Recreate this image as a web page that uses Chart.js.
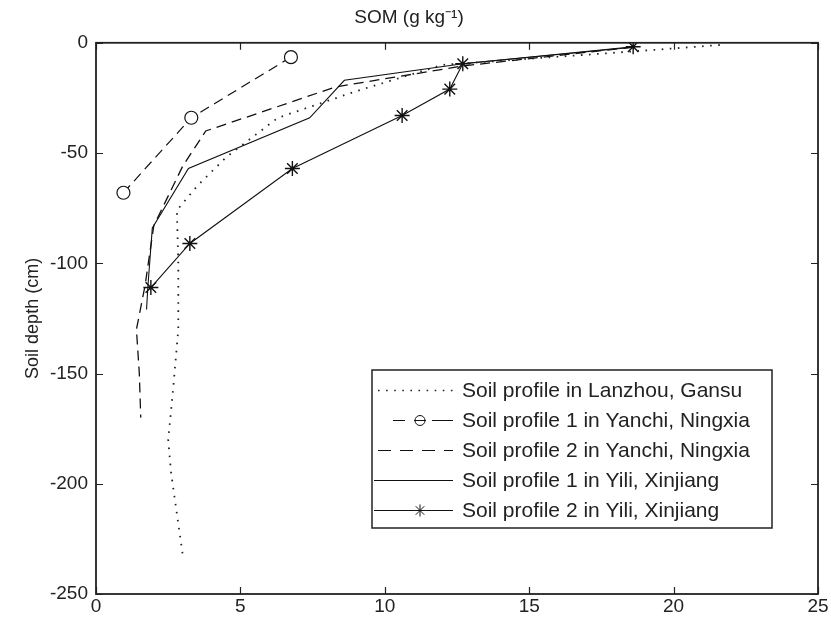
<!DOCTYPE html>
<html>
<head>
<meta charset="utf-8">
<script src="https://cdn.jsdelivr.net/npm/chart.js@4.4.1/dist/chart.umd.min.js"></script>
<style>
  html, body { margin: 0; padding: 0; background: #fff; }
  #wrap { width: 831px; height: 625px; }
</style>
</head>
<body>
<div id="wrap"><canvas id="somChart" width="831" height="625"></canvas></div>
<script>
// SOM (g/kg) against soil depth (cm)
var lanzhouSOM   = [21.6, 18.5, 12.0, 9.0, 6.3, 4.5, 3.5, 2.8, 2.85, 2.85, 2.65, 2.5, 2.6, 3.0];
var lanzhouDepth = [-1, -4, -10, -22, -34, -52, -65, -76, -100, -130, -160, -180, -195, -232];

var yanchi1SOM   = [6.75, 3.3, 0.95];
var yanchi1Depth = [-6.5, -34, -68];

var yanchi2SOM   = [18.6, 12.7, 8.3, 3.8, 3.0, 2.0, 1.7, 1.4, 1.5, 1.55];
var yanchi2Depth = [-2, -10.5, -20, -40, -56, -83, -110, -130, -150, -170];

var yili1SOM   = [18.6, 12.7, 8.6, 7.4, 3.2, 1.95, 1.8, 1.75];
var yili1Depth = [-2, -9.5, -17, -34, -57, -84, -110, -121];

var yili2SOM   = [18.6, 12.7, 12.25, 10.6, 6.8, 3.25, 1.9];
var yili2Depth = [-1.8, -9.5, -21, -33, -57, -91, -111];

var xTicks = [0, 5, 10, 15, 20, 25];
var yTicks = [0, -50, -100, -150, -200, -250];

var seriesLabels = [
  "Soil profile in Lanzhou, Gansu",
  "Soil profile 1 in Yanchi, Ningxia",
  "Soil profile 2 in Yanchi, Ningxia",
  "Soil profile 1 in Yili, Xinjiang",
  "Soil profile 2 in Yili, Xinjiang"
];

function toPoints(xs, ys) {
  var pts = [];
  for (var i = 0; i < xs.length; i++) pts.push({ x: xs[i], y: ys[i] });
  return pts;
}

var ink = "#111";
var fontFam = "'Liberation Sans', Arial, sans-serif";

// box round the plot with inward ticks on all four sides
var boxTicks = {
  id: "boxTicks",
  afterDraw: function (chart) {
    var ctx = chart.ctx, a = chart.chartArea;
    var sx = chart.scales.x, sy = chart.scales.y;
    var len = 7;
    ctx.save();
    ctx.strokeStyle = "#222";
    ctx.lineWidth = 1.2;
    ctx.beginPath();
    xTicks.forEach(function (v) {
      var px = Math.round(sx.getPixelForValue(v)) + 0.5;
      ctx.moveTo(px, a.bottom); ctx.lineTo(px, a.bottom - len);
      ctx.moveTo(px, a.top); ctx.lineTo(px, a.top + len);
    });
    yTicks.forEach(function (v) {
      var py = Math.round(sy.getPixelForValue(v)) + 0.5;
      ctx.moveTo(a.left, py); ctx.lineTo(a.left + len, py);
      ctx.moveTo(a.right, py); ctx.lineTo(a.right - len, py);
    });
    ctx.stroke();
    ctx.lineWidth = 1.8;
    ctx.strokeRect(a.left, a.top, a.right - a.left, a.bottom - a.top);
    ctx.restore();
  }
};

// legend box inside the plot, lower right
var boxLegend = {
  id: "boxLegend",
  afterDraw: function (chart) {
    var ctx = chart.ctx;
    var left = 372, top = 370, w = 400, h = 158;
    var rowH = 30, firstRow = top + 20;
    ctx.save();
    ctx.fillStyle = "#fff";
    ctx.fillRect(left, top, w, h);
    ctx.strokeStyle = "#222";
    ctx.lineWidth = 1.5;
    ctx.strokeRect(left, top, w, h);
    chart.data.datasets.forEach(function (ds, i) {
      var y = firstRow + i * rowH + 0.5;
      ctx.strokeStyle = ds.borderColor;
      ctx.lineWidth = ds.legendWidth || 1;
      ctx.lineCap = "butt";
      ctx.setLineDash(ds.legendDash || []);
      ctx.beginPath();
      ctx.moveTo(ds.legendStart || 378, y);
      ctx.lineTo(453, y);
      ctx.stroke();
      ctx.setLineDash([]);
      if (ds.pointRadius > 0) {
        ctx.fillStyle = "rgba(0,0,0,0)";
        ctx.strokeStyle = ink;
        ctx.lineWidth = 1;
        Chart.helpers.drawPoint(ctx, {
          pointStyle: ds.pointStyle, radius: ds.legendRadius,
          rotation: 0, borderWidth: 1
        }, 420, y);
      }
      ctx.fillStyle = "#222";
      ctx.font = "21px " + fontFam;
      ctx.textBaseline = "middle";
      ctx.fillText(ds.label, 462, y + 1);
    });
    ctx.restore();
  }
};

new Chart(document.getElementById("somChart"), {
  type: "line",
  data: {
    datasets: [
      {
        label: seriesLabels[0],
        data: toPoints(lanzhouSOM, lanzhouDepth),
        borderColor: "#222", borderWidth: 1.8, borderDash: [1.6, 6.5],
        pointRadius: 0,
        legendDash: [1.6, 6.5], legendWidth: 1.4
      },
      {
        label: seriesLabels[1],
        data: toPoints(yanchi1SOM, yanchi1Depth),
        borderColor: ink, borderWidth: 1.2, borderDash: [10, 6],
        pointStyle: "circle", pointRadius: 6.5, pointBorderWidth: 1.2,
        pointBackgroundColor: "#fff", pointBorderColor: ink,
        legendDash: [12, 9, 12, 6, 21, 100], legendStart: 393, legendRadius: 5
      },
      {
        label: seriesLabels[2],
        data: toPoints(yanchi2SOM, yanchi2Depth),
        borderColor: ink, borderWidth: 1.3, borderDash: [10, 6],
        pointRadius: 0,
        legendDash: [13, 9]
      },
      {
        label: seriesLabels[3],
        data: toPoints(yili1SOM, yili1Depth),
        borderColor: ink, borderWidth: 1.1, pointRadius: 0,
        legendStart: 374
      },
      {
        label: seriesLabels[4],
        data: toPoints(yili2SOM, yili2Depth),
        borderColor: ink, borderWidth: 1.1,
        pointStyle: "star", pointRadius: 7.5, pointBorderWidth: 1.4,
        pointBorderColor: ink, pointBackgroundColor: ink,
        legendStart: 374, legendRadius: 6
      }
    ]
  },
  options: {
    responsive: false,
    animation: false,
    events: [],
    layout: { padding: { left: 0, right: 13, top: 0, bottom: 0 } },
    elements: { line: { tension: 0, fill: false } },
    plugins: {
      legend: { display: false },
      tooltip: { enabled: false },
      title: {
        display: true,
        text: "SOM (g kg\u207B\u00B9)",
        color: "#222",
        font: { family: fontFam, size: 19, weight: "normal" },
        padding: { top: 6, bottom: 14 }
      }
    },
    scales: {
      x: {
        type: "linear",
        min: 0, max: 25,
        afterBuildTicks: function (s) { s.ticks = xTicks.map(function (v) { return { value: v }; }); },
        afterFit: function (s) { s.height = 31; },
        grid: { display: false, drawTicks: false },
        border: { display: false },
        ticks: {
          color: "#222", padding: 1,
          font: { family: fontFam, size: 19 }
        }
      },
      y: {
        type: "linear",
        min: -250, max: 0,
        afterBuildTicks: function (s) { s.ticks = yTicks.map(function (v) { return { value: v }; }); },
        afterFit: function (s) { s.width = 96; },
        grid: { display: false, drawTicks: false },
        border: { display: false },
        title: {
          display: true,
          text: "Soil depth (cm)",
          color: "#222",
          font: { family: fontFam, size: 18 },
          padding: { top: 22, bottom: 0 }
        },
        ticks: {
          color: "#222", padding: 8,
          font: { family: fontFam, size: 19 }
        }
      }
    }
  },
  plugins: [boxTicks, boxLegend]
});
</script>
</body>
</html>
